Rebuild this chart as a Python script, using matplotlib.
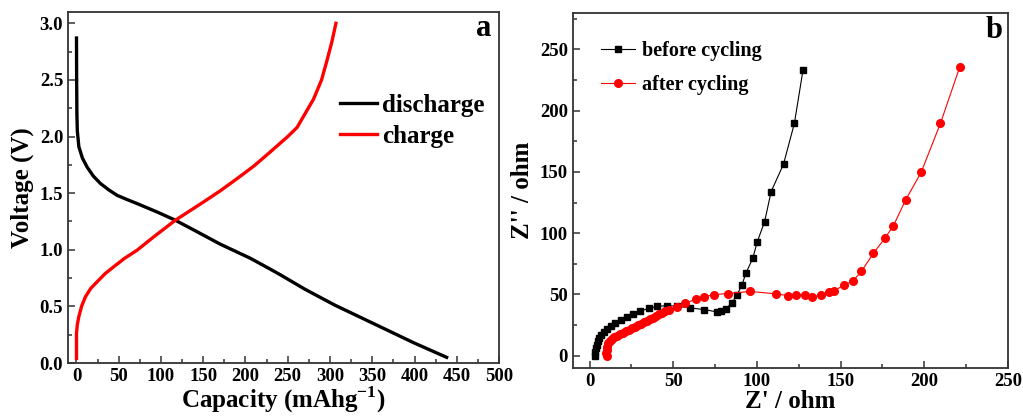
import matplotlib
matplotlib.use('Agg')
import matplotlib.pyplot as plt
from matplotlib.ticker import MultipleLocator

plt.rcParams['font.family'] = ['Liberation Serif', 'DejaVu Serif']
plt.rcParams['font.weight'] = 'bold'
plt.rcParams['mathtext.fontset'] = 'custom'
plt.rcParams['mathtext.rm'] = 'Liberation Serif:bold'
plt.rcParams['mathtext.bf'] = 'Liberation Serif:bold'

# (a) charge / discharge curves
dis_cap = [0, 0.2, 0.5, 1, 2.8, 7, 12.6, 20, 28.4, 38, 48, 60, 71.7, 95, 117, 145, 170,
           205.7, 229, 241, 270.7, 306, 351, 398.7, 438]
dis_volt = [2.87, 2.5, 2.2, 2.05, 1.91, 1.81, 1.73, 1.65, 1.585, 1.53, 1.481, 1.443, 1.408, 1.335, 1.261,
            1.15, 1.05, 0.925, 0.83, 0.78, 0.65, 0.51, 0.35, 0.18, 0.05]
chg_cap = [0, 0, 1, 2.8, 6, 10.6, 17, 24.4, 34, 44.1, 57, 71.7, 91.4, 117, 150.5, 170, 190, 210,
           229.3, 250, 261, 280.5, 290, 296, 302, 307]
chg_volt = [0.04, 0.26, 0.34, 0.41, 0.50, 0.585, 0.66, 0.717, 0.79, 0.85, 0.925, 0.996, 1.114, 1.261,
            1.423, 1.52, 1.628, 1.74, 1.864, 2.0, 2.08, 2.33, 2.5, 2.66, 2.83, 3.0]

# (b) impedance spectra
before_re = [3.4, 3.5, 3.8, 4.3, 5.0, 5.9, 7.0, 8.5, 10.2, 12.5, 15.2, 18.5, 22.5, 26.0, 30.0, 35.5, 40.5,
             46.5, 52.0, 60.0, 68.5, 76.0, 78.5, 81.5, 85.0, 88.0, 91.0, 93.5, 97.5, 100.2, 104.6, 108.5,
             115.9, 122.4, 127.6]
before_im = [0, 3, 6, 9, 12, 14.5, 17, 19.5, 22, 24.5, 27, 29.5, 32, 34, 36.3, 38.8, 40.2,
             41, 40.4, 39, 37.7, 35.8, 36.5, 38.5, 43, 49.5, 57.6, 67.7, 79.4, 93, 109.4, 134,
             156.4, 189.7, 233.6]
after_re = [10.3, 10.0, 10.1, 10.5, 11.2, 12.2, 13.4, 14.8, 16.3, 18.0, 19.8, 21.6, 23.4, 25.2, 27.0, 28.8,
            30.6, 32.4, 34.2, 36.0, 37.8, 39.6, 41.4, 43.2, 45.0, 47.5, 52.5, 57.3, 63.8, 68.6, 74.5, 82.8,
            96.0, 111.5, 118.5, 123.6, 129.0, 133.0, 138.3, 143.3, 146.2, 152.2, 157.7, 162.5, 169.6,
            176.4, 181.5, 188.9, 198.2, 209.7, 221.2]
after_im = [0, 2.5, 5, 7.5, 10, 12, 13.5, 15, 16.3, 17.6, 18.8, 20, 21.2, 22.4, 23.6, 24.8,
            26, 27.3, 28.6, 29.9, 31.2, 32.5, 33.7, 35, 36.2, 37.5, 39.8, 42.8, 46.4, 48.2, 49.9, 50.8,
            52.5, 50.5, 49.1, 49.4, 49.4, 48, 49.4, 52, 53.2, 57.6, 61.4, 69, 83.5,
            95.8, 105.9, 127.2, 149.8, 189.7, 235.5]

fig = plt.figure(figsize=(10.23, 4.16), dpi=100)
ax1 = fig.add_axes([0.0665, 0.1274, 0.4213, 0.8438])
ax2 = fig.add_axes([0.560, 0.1154, 0.4252, 0.854])


def style(ax):
    for s in ax.spines.values():
        s.set_linewidth(1.3)
        s.set_color('#333333')
    ax.tick_params(which='both', direction='in', top=False, right=False,
                   labelsize=13.5, color='#333333', width=1.1)
    ax.tick_params(which='major', length=5)
    ax.tick_params(which='minor', length=3)
    for lab in ax.get_xticklabels() + ax.get_yticklabels():
        lab.set_fontweight('bold')


ax1.plot(dis_cap, dis_volt, color='black', lw=2.4, label='discharge', solid_joinstyle='round')
ax1.plot(chg_cap, chg_volt, color='red', lw=2.4, label='charge', solid_joinstyle='round')
ax1.set_xlim(-10, 500)
ax1.set_ylim(0, 3.1)
ax1.xaxis.set_major_locator(MultipleLocator(50))
ax1.xaxis.set_minor_locator(MultipleLocator(25))
ax1.yaxis.set_major_locator(MultipleLocator(0.5))
ax1.yaxis.set_minor_locator(MultipleLocator(0.25))
ax1.yaxis.set_major_formatter(plt.FormatStrFormatter('%.1f'))
ax1.set_xlabel(r'Capacity (mAhg$^{-1}$)', fontsize=18, fontweight='bold', labelpad=0)
ax1.set_ylabel('Voltage (V)', fontsize=18, fontweight='bold', labelpad=4)
ax1.text(0.965, 0.954, 'a', transform=ax1.transAxes, fontsize=22, fontweight='bold',
         ha='center', va='center')
ax1.legend(loc='upper left', bbox_to_anchor=(0.63, 0.766), frameon=False, fontsize=18,
           handlelength=1.5, handletextpad=0.2, labelspacing=0.3, borderpad=0, borderaxespad=0)
style(ax1)

ax2.plot(before_re, before_im, color='black', lw=0.8, marker='s', ms=4.5, label='before cycling')
ax2.plot(after_re, after_im, color='red', lw=0.8, marker='o', ms=5.5, label='after cycling')
ax2.set_xlim(-10, 250)
ax2.set_ylim(-10, 280)
ax2.xaxis.set_major_locator(MultipleLocator(50))
ax2.xaxis.set_minor_locator(MultipleLocator(25))
ax2.yaxis.set_major_locator(MultipleLocator(50))
ax2.yaxis.set_minor_locator(MultipleLocator(25))
ax2.set_xlabel("Z' / ohm", fontsize=18, fontweight='bold', labelpad=0)
ax2.set_ylabel("Z'' / ohm", fontsize=18, fontweight='bold', labelpad=4)
ax2.text(0.968, 0.951, 'b', transform=ax2.transAxes, fontsize=22, fontweight='bold',
         ha='center', va='center')
ax2.legend(loc='upper left', bbox_to_anchor=(0.064, 0.92), frameon=False, fontsize=14.5,
           handlelength=1.7, handletextpad=0.35, labelspacing=0.7, borderpad=0, borderaxespad=0)
style(ax2)

fig.savefig('out.png', dpi=100)
